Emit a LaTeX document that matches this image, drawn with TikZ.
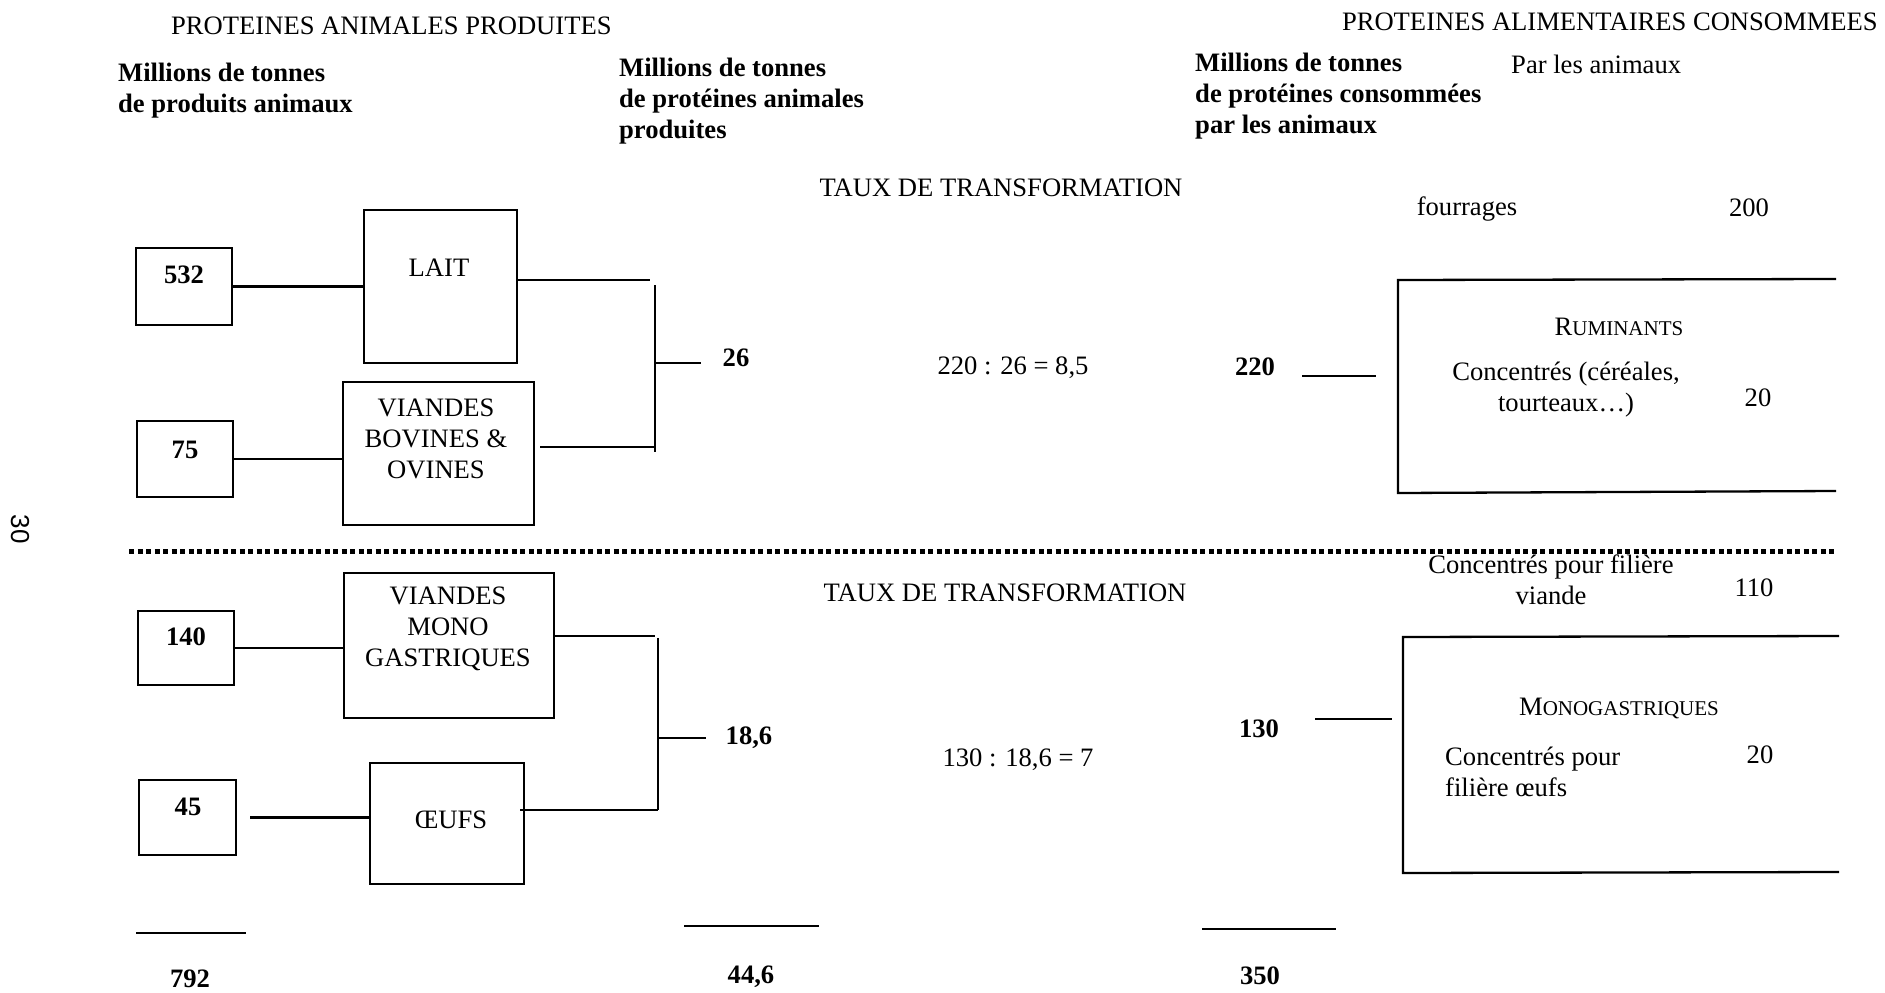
\documentclass[tikz,border=0pt]{standalone}
\usepackage{fontspec}
\setmainfont{Liberation Serif}
\newfontfamily\sansf{Liberation Sans}
\newcommand\fsc[2]{#1{\fontsize{21}{25}\selectfont #2}}
\begin{document}
\begin{tikzpicture}[x=1pt,y=-1pt,
  every node/.style={font=\fontsize{26.6}{31}\selectfont, inner sep=0pt},
  box/.style={draw, line width=2.3pt, inner sep=0pt},
  ln/.style={line width=2.3pt},
  num/.style={font=\fontsize{26.6}{31}\selectfont\bfseries},
  dotline/.style={line width=5pt, dash pattern=on 5pt off 3.5pt}
]
\useasboundingbox (0,0) rectangle (1885,993);

% page number
\node[font=\sansf\fontsize{26}{30}\selectfont, rotate=-90] (pg) at (20,529) {30};

% headers
\node[anchor=west] (t1) at (171,26) {PROTEINES ANIMALES PRODUITES};
\node[anchor=east] (t2) at (1878,22) {PROTEINES ALIMENTAIRES CONSOMMEES};
\node[num, anchor=west, align=left] (h1) at (118,90.5) {Millions de tonnes\\de produits animaux};
\node[num, anchor=west, align=left] (h2) at (619,101) {Millions de tonnes\\de protéines animales\\produites};
\node[num, anchor=west, align=left] (h3) at (1195,96.5) {Millions de tonnes\\de protéines consommées\\par les animaux};
\node[anchor=west] (h4) at (1511,64) {Par les animaux};

% ---------- upper part ----------
\node (taux1) at (1001,188) {TAUX DE TRANSFORMATION};
\node (fourr) at (1467,209) {fourrages};
\node (v200) at (1749,208) {200};

\coordinate (rumTR) at (1836,279);
\coordinate (rumTL) at (1398,280);
\coordinate (rumBL) at (1398,493);
\coordinate (rumBR) at (1836,491);
\draw[ln] (rumTR) -- (rumTL) -- (rumBL) -- (rumBR);
\node (rum) at (1619,327) {\fsc{R}{UMINANTS}};
\node[align=center] (conc1) at (1566,390) {Concentrés (céréales,\\tourteaux…)};
\node (v20a) at (1758,398) {20};

\node[num] (n220) at (1255,367) {220};
\draw[ln] (n220.east) ++(27,9) -- ++(74,0);
\node (r1) at (1013,368) {220 : 26 = 8,5};
\node[num] (n26) at (736,358) {26};

\node[box, minimum width=96pt, minimum height=77pt] (b532) at (184,286.5) {};
\node[num] (t532) at (184,275) {532};
\node[box, minimum width=153pt, minimum height=153pt] (lait) at (440.5,286.5) {};
\node (tlait) at (439,268) {LAIT};
\draw[ln] (b532) -- (lait);

\node[box, minimum width=96pt, minimum height=76pt] (b75) at (185,459) {};
\node[num] (t75) at (185,450) {75};
\node[box, minimum width=191pt, minimum height=143pt] (vbo) at (438.5,453.5) {};
\node[align=center] (tvbo) at (436,439) {VIANDES\\BOVINES \&\\OVINES};
\draw[ln] (b75.east) -- (b75.east -| vbo.west);

\coordinate (br1t) at (655,285);
\coordinate (br1b) at (655,452);
\coordinate (j1) at (655,363);
\draw[ln] (br1t) -- (br1b);
\draw[ln] (lait.east) ++(0,-6.5) -- ++(132,0);
\draw[ln] (vbo.east) ++(5,-6.5) -- ++(116,0);
\draw[ln] (j1) -- ++(46,0);

% separator
\coordinate (dl) at (129,551);
\coordinate (dr) at (1836,551);
\draw[dotline] (dl) -- (dr);

% ---------- lower part ----------
\node (taux2) at (1005,593) {TAUX DE TRANSFORMATION};
\node[align=center] (cpv) at (1551,580) {Concentrés pour filière\\viande};
\node (v110) at (1754,588) {110};

\node[box, minimum width=96pt, minimum height=74pt] (b140) at (186,648) {};
\node[num] (t140) at (186,637) {140};
\node[box, minimum width=210pt, minimum height=145pt] (vmg) at (449,645.5) {};
\node[align=center] (tvmg) at (448,629) {VIANDES\\MONO\\GASTRIQUES};
\draw[ln] (b140.east) -- (b140.east -| vmg.west);

\node[box, minimum width=97pt, minimum height=75pt] (b45) at (187.5,817.5) {};
\node[num] (t45) at (188,807) {45};
\node[box, minimum width=154pt, minimum height=121pt] (oeufs) at (447,823.5) {};
\node (toeufs) at (451,820) {ŒUFS};
\draw[ln] ([xshift=13pt]b45.east) -- (b45.east -| oeufs.west);

\coordinate (br2t) at (658,638);
\coordinate (br2b) at (658,810);
\coordinate (j2) at (658,738);
\draw[ln] (br2t) -- (br2b);
\draw[ln] (vmg.east) ++(0,-9.5) -- ++(100,0);
\draw[ln] (oeufs.east) ++(-5,-13.5) -- (br2b);
\draw[ln] (j2) -- ++(48,0);
\node[num] (n186) at (749,738) {18,6};

\node (r2) at (1018,760) {130 : 18,6 = 7};
\node[num] (n130) at (1259,729) {130};
\draw[ln] (n130.east) ++(36,-10) -- ++(77,0);

\coordinate (monTR) at (1839,636);
\coordinate (monTL) at (1403,637);
\coordinate (monBL) at (1403,873);
\coordinate (monBR) at (1839,872);
\draw[ln] (monTR) -- (monTL) -- (monBL) -- (monBR);
\node (mono) at (1619,708) {\fsc{M}{ONOGASTRIQUES}};
\node[align=left, anchor=west] (cpo) at (1445,771.5) {Concentrés pour\\filière œufs};
\node (v20b) at (1760,755) {20};

% totals
\node[num] (tot1) at (190,979) {792};
\node[num] (tot2) at (751,977) {44,6};
\node[num] (tot3) at (1260,976) {350};
\draw[ln] (tot1.center) ++(-54,-46) -- ++(110,0);
\draw[ln] (tot2.center) ++(-67,-51) -- ++(135,0);
\draw[ln] (tot3.center) ++(-58,-47) -- ++(134,0);
\end{tikzpicture}
\end{document}
